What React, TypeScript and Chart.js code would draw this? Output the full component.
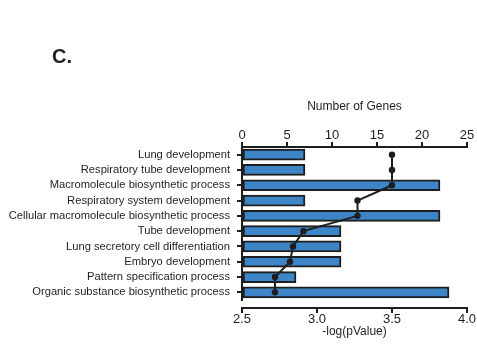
import React, { useEffect, useRef } from "react";
import { Chart, registerables } from "chart.js";

Chart.register(...registerables);

const categories = [
  "Lung development",
  "Respiratory tube development",
  "Macromolecule biosynthetic process",
  "Respiratory system development",
  "Cellular macromolecule biosynthetic process",
  "Tube development",
  "Lung secretory cell differentiation",
  "Embryo development",
  "Pattern specification process",
  "Organic substance biosynthetic process",
];
const geneCounts = [7, 7, 22, 7, 22, 11, 11, 11, 6, 23];
const negLogP = [3.5, 3.5, 3.5, 3.27, 3.27, 2.91, 2.84, 2.82, 2.72, 2.72];

const topTicks = { min: 0, max: 25, step: 5 };
const bottomTicks = { min: 2.5, max: 4.0, step: 0.5 };

const INK = "#1e1e1e";
const TEXT = "#231f20";
const BAR = "#3d85c6";
const FONT = "Arial, 'Liberation Sans', sans-serif";

export default function App() {
  const ref = useRef<HTMLCanvasElement | null>(null);

  useEffect(() => {
    if (!ref.current) return;
    // Prism-style offset: the category axis stops short of the bottom value axis
    const offsetCategoryAxis = {
      id: "offsetCategoryAxis",
      afterLayout(chart: any) {
        const y = chart.scales.y;
        if (!y) return;
        y.bottom = chart.chartArea.bottom - 8;
        y.height = y.bottom - y.top;
        y.configure();
      },
    };
    const chart = new Chart(ref.current, {
      type: "bar",
      data: {
        labels: categories,
        datasets: [
          {
            type: "line",
            label: "-log(pValue)",
            data: negLogP,
            indexAxis: "y",
            xAxisID: "x2",
            yAxisID: "y",
            borderColor: INK,
            borderWidth: 2,
            pointRadius: 3.2,
            pointBackgroundColor: INK,
            pointBorderWidth: 0,
            tension: 0,
            order: 0,
            clip: false,
          } as any,
          {
            type: "bar",
            label: "Number of Genes",
            data: geneCounts,
            indexAxis: "y",
            xAxisID: "x",
            yAxisID: "y",
            backgroundColor: BAR,
            borderColor: INK,
            borderWidth: 2,
            borderSkipped: false,
            barThickness: 11,
            order: 1,
          } as any,
        ],
      },
      options: {
        indexAxis: "y",
        animation: false,
        responsive: false,
        devicePixelRatio: 1,
        layout: { padding: { left: 0, right: 10, top: 0, bottom: 0 } },
        plugins: { legend: { display: false }, tooltip: { enabled: false } },
        scales: {
          y: {
            type: "category",
            position: "left",
            offset: true,
            grid: {
              offset: false,
              drawOnChartArea: false,
              drawTicks: true,
              tickLength: 5,
              tickWidth: 2,
              tickColor: INK,
              lineWidth: 2,
              color: INK,
            },
            border: { display: true, color: INK, width: 2 },
            ticks: {
              autoSkip: false,
              color: TEXT,
              font: { family: FONT, size: 11.2 },
              padding: 7,
            },
            afterFit(scale: any) {
              scale.width = 242;
            },
          },
          x: {
            type: "linear",
            position: "top",
            min: topTicks.min,
            max: topTicks.max,
            grid: {
              drawOnChartArea: false,
              drawTicks: true,
              tickLength: 5,
              tickWidth: 2,
              tickColor: INK,
              lineWidth: 2,
              color: INK,
            },
            border: { display: true, color: INK, width: 2 },
            ticks: {
              stepSize: topTicks.step,
              color: TEXT,
              font: { family: FONT, size: 13 },
              padding: -1.5,
            },
            title: {
              display: true,
              text: "Number of Genes",
              color: TEXT,
              font: { family: FONT, size: 12 },
              padding: { top: 99, bottom: 0 },
            },
            afterFit(scale: any) {
              scale.height = 147;
            },
          },
          x2: {
            type: "linear",
            position: "bottom",
            min: bottomTicks.min,
            max: bottomTicks.max,
            grid: {
              drawOnChartArea: false,
              drawTicks: true,
              tickLength: 5,
              tickWidth: 2,
              tickColor: INK,
              lineWidth: 2,
              color: INK,
            },
            border: { display: true, color: INK, width: 2 },
            ticks: {
              stepSize: bottomTicks.step,
              color: TEXT,
              font: { family: FONT, size: 13 },
              padding: -1,
              callback: (v: any) => Number(v).toFixed(1),
            },
            title: {
              display: true,
              text: "-log(pValue)",
              color: TEXT,
              font: { family: FONT, size: 12 },
              padding: { top: 0, bottom: 6 },
            },
            afterFit(scale: any) {
              scale.height = 37;
            },
          },
        },
      },
      plugins: [offsetCategoryAxis],
    } as any);
    return () => chart.destroy();
  }, []);

  return (
    <div style={{ position: "absolute", left: 0, top: 0, width: 477, height: 345, background: "#fff" }}>
      <div
        style={{
          position: "absolute",
          left: 52,
          top: 46,
          fontFamily: FONT,
          fontWeight: "bold",
          fontSize: 20,
          lineHeight: "20px",
          color: TEXT,
        }}
      >
        C.
      </div>
      <canvas ref={ref} width={477} height={345} style={{ display: "block" }} />
    </div>
  );
}
